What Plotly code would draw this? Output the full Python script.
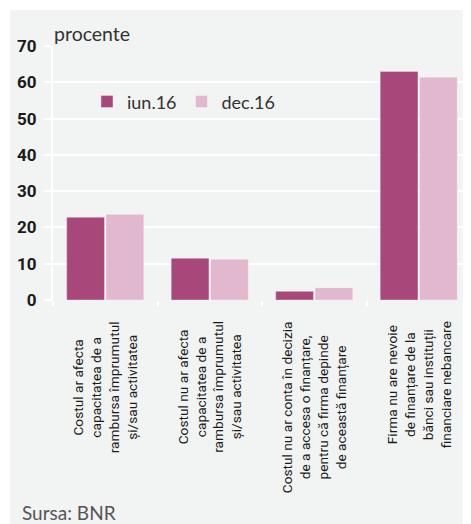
import plotly.graph_objects as go

categories = [
    "Costul ar afecta<br>capacitatea de a<br>rambursa împrumutul<br>și/sau activitatea",
    "Costul nu ar afecta<br>capacitatea de a<br>rambursa împrumutul<br>și/sau activitatea",
    "Costul nu ar conta în decizia<br>de a accesa o finanțare,<br>pentru că firma depinde<br>de această finanțare",
    "Firma nu are nevoie<br>de finanțare de la<br>bănci sau instituții<br>financiare nebancare",
]
cat_keys = ["c1", "c2", "c3", "c4"]
series_names = ["iun.16", "dec.16"]
iun16 = [22.8, 11.5, 2.4, 63.0]
dec16 = [23.6, 11.2, 3.4, 61.4]
y_ticks = [0, 10, 20, 30, 40, 50, 60, 70]

COL_IUN = "#a8477a"
COL_DEC = "#e2b8cf"
PANEL = "#f2f3f3"
NARROW = "Roboto, Liberation Sans, sans-serif"
REG = "Lato, Noto Sans, sans-serif"

# page body has an 8px margin: figure is 463x516 placed at (8, 8)
fig = go.Figure()
for name, vals, col in [(series_names[0], iun16, COL_IUN), (series_names[1], dec16, COL_DEC)]:
    fig.add_trace(go.Bar(
        x=cat_keys, y=vals, name=name,
        marker=dict(color=col, line=dict(color="rgba(255,255,255,0.35)", width=1)),
    ))

annotations = []
for key, label in zip(cat_keys, categories):
    annotations.append(dict(
        x=key, xref="x", y=0, yref="paper", yshift=-19, yanchor="top", xanchor="center",
        text=label, textangle=-90, align="center", showarrow=False,
        font=dict(family=NARROW, size=13.7, color="#1a1a1a"),
    ))
annotations.append(dict(
    x=0, xref="paper", xshift=-1, xanchor="left", y=1, yref="paper", yshift=13, yanchor="middle",
    text="procente", showarrow=False, font=dict(family=REG, size=19.5, color="#333333"),
))
annotations.append(dict(
    x=0, xref="paper", xshift=-33, xanchor="left", y=0, yref="paper", yshift=-212, yanchor="middle",
    text="Sursa: BNR", showarrow=False, font=dict(family=REG, size=19, color="#555555"),
))

fig.update_layout(
    width=463, height=516,
    margin=dict(l=45, r=0, t=38, b=224),
    paper_bgcolor="white",
    plot_bgcolor="rgba(0,0,0,0)",
    barmode="group", bargap=0.247, bargroupgap=0.04,
    showlegend=True,
    legend=dict(orientation="h", x=0.0813, y=0.78, xanchor="left", yanchor="middle",
                bgcolor="rgba(0,0,0,0)", font=dict(family=REG, size=18, color="#333333"),
                itemwidth=30, tracegroupgap=0),
    shapes=[dict(type="rect", xref="paper", yref="paper", layer="below",
                 x0=-43 / 418, x1=1.01, y0=-224 / 254 - 0.01, y1=1 + 36 / 254,
                 fillcolor=PANEL, line=dict(width=0))],
    annotations=annotations,
)
fig.update_xaxes(
    showticklabels=False, showgrid=False, showline=False, zeroline=False,
    ticks="outside", tickson="boundaries", ticklen=5, tickwidth=2, tickcolor="white",
)
fig.update_yaxes(
    range=[0, 70], tickvals=y_ticks, showgrid=True, gridcolor="white", gridwidth=2,
    zeroline=False, showline=True, linecolor="white", linewidth=2,
    ticks="outside", ticklen=7, tickwidth=2, tickcolor="white", ticklabelstandoff=4,
    tickfont=dict(family=NARROW, size=17, color="#1a1a1a", weight="bold"),
)

fig.write_html("out.html")
